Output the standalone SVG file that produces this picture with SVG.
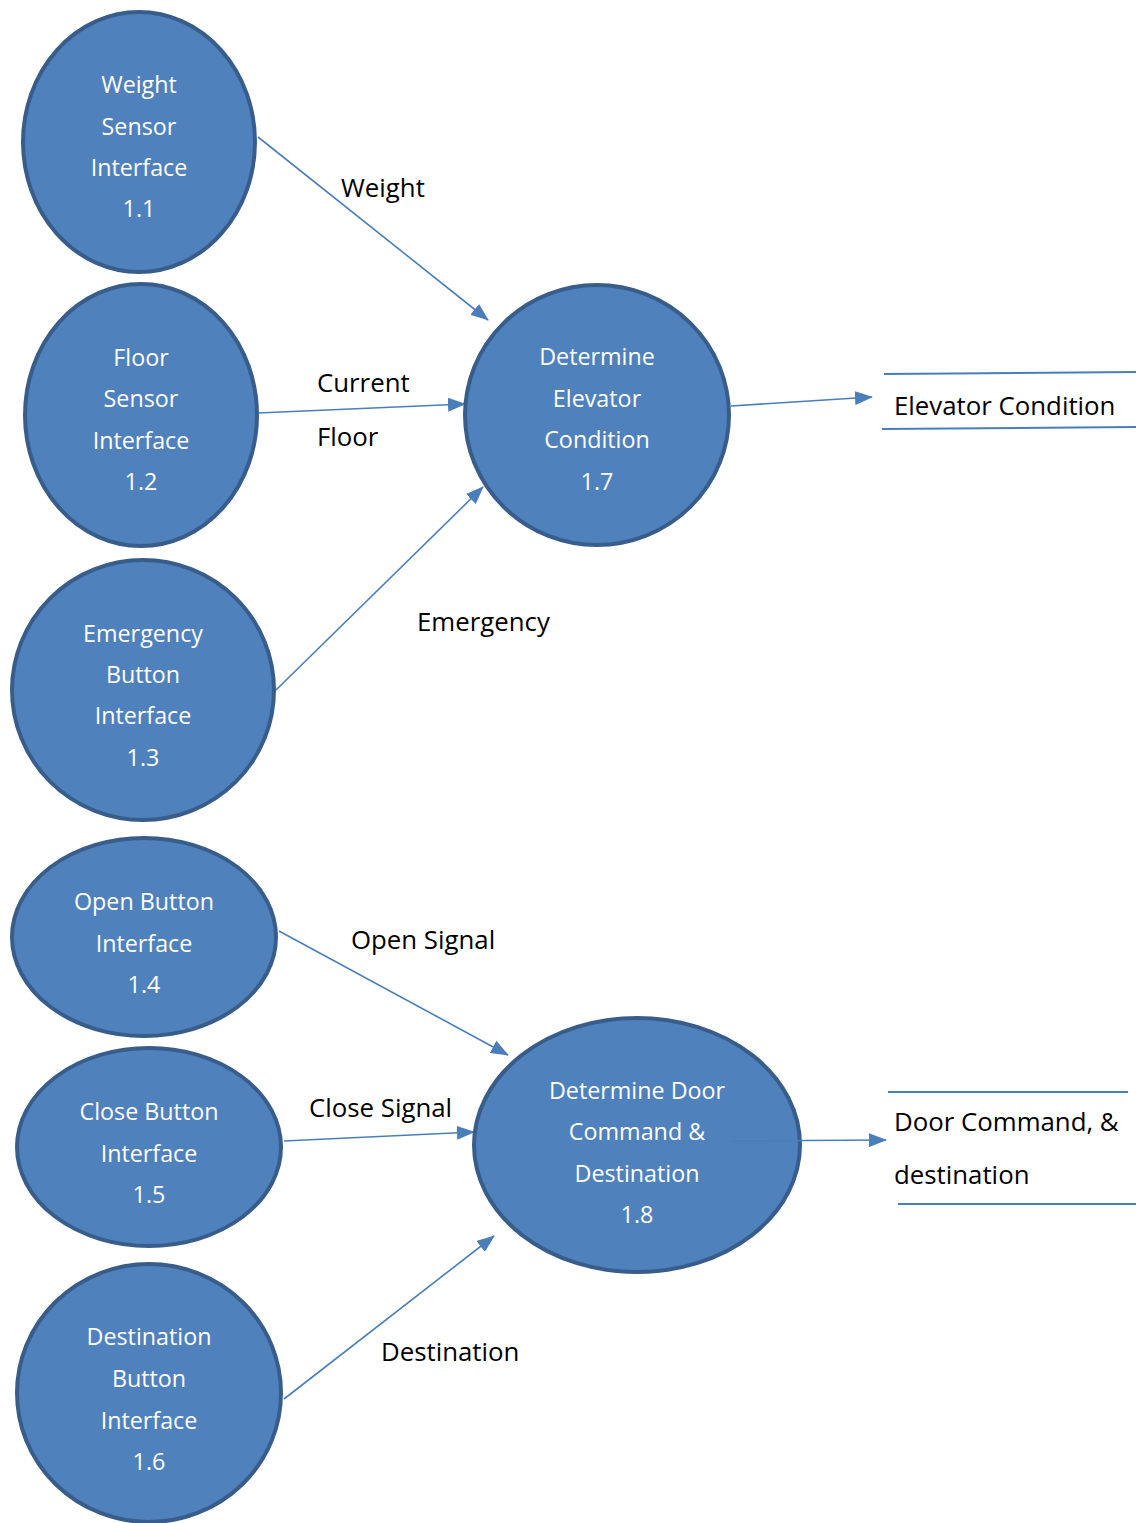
<svg xmlns="http://www.w3.org/2000/svg" width="1136" height="1523" viewBox="0 0 1136 1523">
  <style>
    .proc ellipse { fill: #4F81BD; stroke: #385D8A; stroke-width: 4; }
    .proc text { fill: #FFFFFF; font-family: "Open Sans", "Noto Sans", "Liberation Sans", sans-serif; font-size: 23.3px; text-anchor: middle; }
    .flow { stroke: #4A7EBB; stroke-width: 1.6; fill: none; }
    .store { stroke: #4A7EBB; stroke-width: 2; fill: none; }
    .lbl { fill: #000000; font-family: "Open Sans", "Noto Sans", "Liberation Sans", sans-serif; font-size: 25.8px; }
  </style>
  <defs>
    <marker id="arrow" markerUnits="userSpaceOnUse" markerWidth="18" markerHeight="14" viewBox="0 0 18 14" refX="17" refY="7" orient="auto">
      <path d="M0,0 L18,7 L0,14 Z" fill="#4A7EBB"/>
    </marker>
  </defs>

  <rect width="1136" height="1523" fill="#FFFFFF"/>

  <!-- data flows -->
  <g id="connectors">
    <line class="flow" x1="258" y1="137" x2="488" y2="320" marker-end="url(#arrow)"/>
    <line class="flow" x1="258" y1="413" x2="465" y2="404" marker-end="url(#arrow)"/>
    <line class="flow" x1="276" y1="690" x2="483" y2="487" marker-end="url(#arrow)"/>
    <line class="flow" x1="731" y1="406" x2="872" y2="397" marker-end="url(#arrow)"/>
    <line class="flow" x1="279" y1="931" x2="508" y2="1055" marker-end="url(#arrow)"/>
    <line class="flow" x1="284" y1="1141" x2="474" y2="1132" marker-end="url(#arrow)"/>
    <line class="flow" x1="284" y1="1399" x2="494" y2="1236" marker-end="url(#arrow)"/>
  </g>

  <!-- processes -->
  <g id="p1_1" class="proc">
    <ellipse cx="139" cy="142" rx="116" ry="130"/>
    <text x="139" y="93">Weight</text>
    <text x="139" y="135">Sensor</text>
    <text x="139" y="176">Interface</text>
    <text x="139" y="217">1.1</text>
  </g>
  <g id="p1_2" class="proc">
    <ellipse cx="141" cy="415" rx="116" ry="131"/>
    <text x="141" y="366">Floor</text>
    <text x="141" y="407">Sensor</text>
    <text x="141" y="449">Interface</text>
    <text x="141" y="490">1.2</text>
  </g>
  <g id="p1_3" class="proc">
    <ellipse cx="143" cy="690" rx="131" ry="130"/>
    <text x="143" y="642">Emergency</text>
    <text x="143" y="683">Button</text>
    <text x="143" y="724">Interface</text>
    <text x="143" y="766">1.3</text>
  </g>
  <g id="p1_4" class="proc">
    <ellipse cx="144" cy="937" rx="132" ry="99"/>
    <text x="144" y="910">Open Button</text>
    <text x="144" y="952">Interface</text>
    <text x="144" y="993">1.4</text>
  </g>
  <g id="p1_5" class="proc">
    <ellipse cx="149" cy="1147" rx="132" ry="99"/>
    <text x="149" y="1120">Close Button</text>
    <text x="149" y="1162">Interface</text>
    <text x="149" y="1203">1.5</text>
  </g>
  <g id="p1_6" class="proc">
    <ellipse cx="149" cy="1393" rx="132" ry="129"/>
    <text x="149" y="1345">Destination</text>
    <text x="149" y="1387">Button</text>
    <text x="149" y="1429">Interface</text>
    <text x="149" y="1470">1.6</text>
  </g>
  <g id="p1_7" class="proc">
    <ellipse cx="597" cy="415" rx="132" ry="130"/>
    <text x="597" y="365">Determine</text>
    <text x="597" y="407">Elevator</text>
    <text x="597" y="448">Condition</text>
    <text x="597" y="490">1.7</text>
  </g>
  <g id="p1_8" class="proc">
    <ellipse cx="637" cy="1145" rx="163" ry="127"/>
    <text x="637" y="1099">Determine Door</text>
    <text x="637" y="1140">Command &amp;</text>
    <text x="637" y="1182">Destination</text>
    <text x="637" y="1223">1.8</text>
  </g>

  <!-- output flow from 1.8 starts inside the bubble -->
  <g id="connector_out">
    <line class="flow" x1="733" y1="1141" x2="886" y2="1140" marker-end="url(#arrow)"/>
  </g>

  <!-- data stores -->
  <g id="store_elevator">
    <line class="store" x1="884" y1="374" x2="1136" y2="372"/>
    <line class="store" x1="882" y1="429" x2="1136" y2="427"/>
    <text class="lbl" x="894" y="415">Elevator Condition</text>
  </g>
  <g id="store_door">
    <line class="store" x1="888" y1="1092" x2="1128" y2="1092"/>
    <line class="store" x1="898" y1="1204" x2="1136" y2="1204"/>
    <text class="lbl" x="894" y="1131">Door Command, &amp;</text>
    <text class="lbl" x="894" y="1184">destination</text>
  </g>

  <!-- flow labels -->
  <g id="labels">
    <text class="lbl" x="341" y="197">Weight</text>
    <text class="lbl" x="317" y="392">Current</text>
    <text class="lbl" x="317" y="446">Floor</text>
    <text class="lbl" x="417" y="631">Emergency</text>
    <text class="lbl" x="351" y="949">Open Signal</text>
    <text class="lbl" x="309" y="1117">Close Signal</text>
    <text class="lbl" x="381" y="1361">Destination</text>
  </g>
</svg>
